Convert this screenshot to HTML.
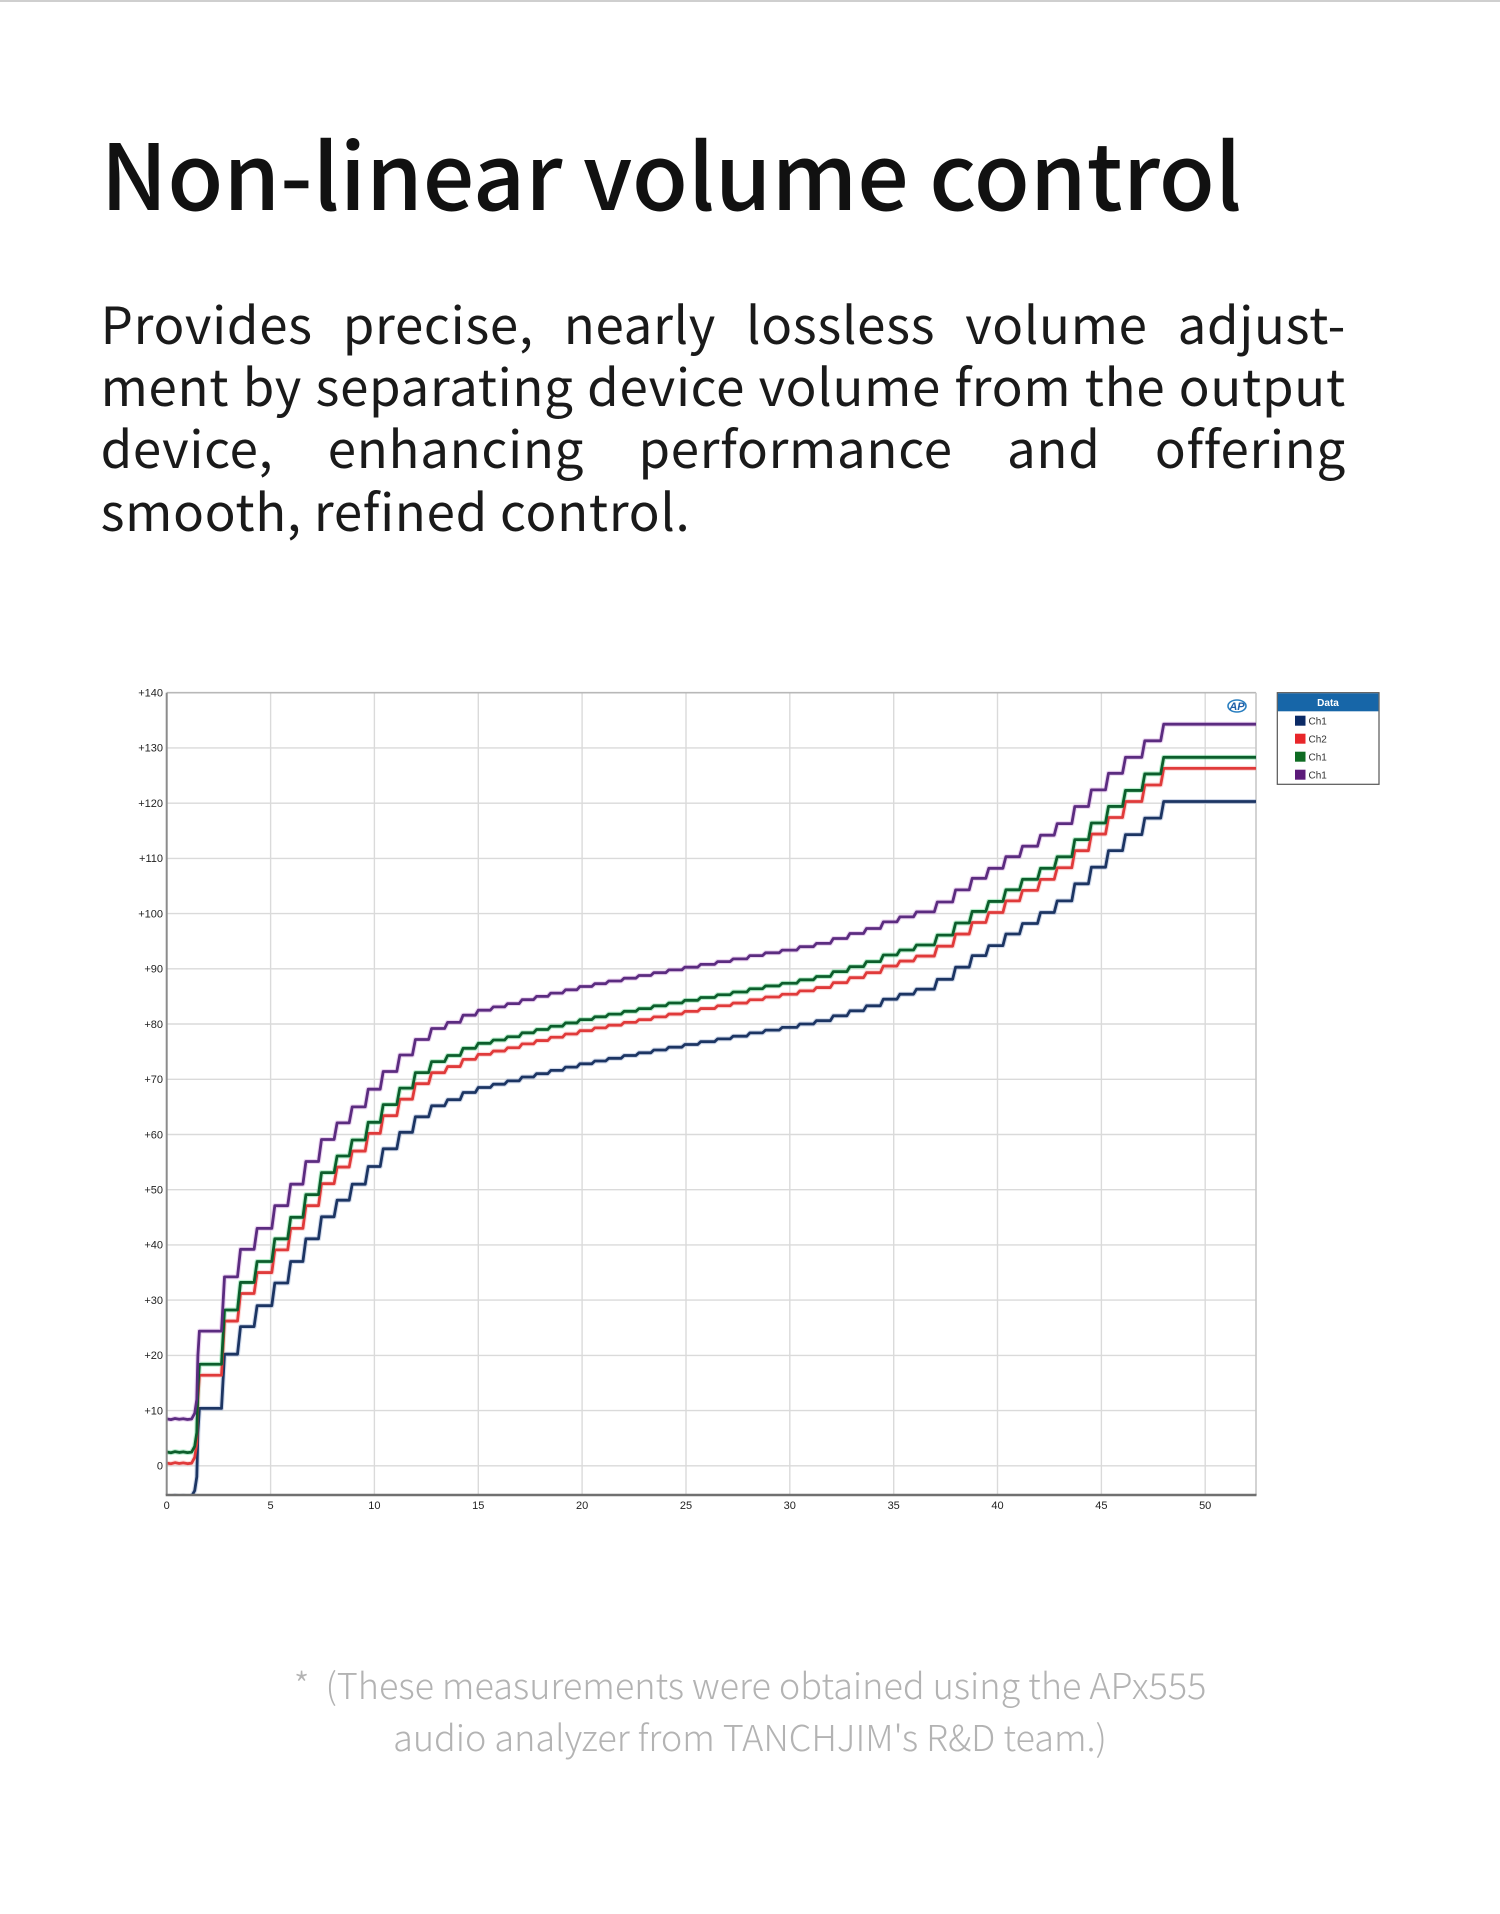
<!DOCTYPE html>
<html>
<head>
<meta charset="utf-8">
<style>
  html,body{margin:0;padding:0;}
  body{width:1500px;height:1914px;background:#fff;position:relative;overflow:hidden;}
  .txt{position:absolute;font-family:"Noto Sans CJK SC","Liberation Sans",sans-serif;white-space:nowrap;}
  .title{left:100.6px;top:125.8px;font-size:91px;line-height:91px;color:#111;font-weight:500;}
  .pl{left:100.6px;width:1245.4px;font-size:51px;line-height:62.3px;color:#1a1a1a;display:flex;justify-content:space-between;letter-spacing:0.7px;}
  .pl.last{display:block;}
  .foot{left:0;width:1500px;text-align:center;font-size:36px;line-height:52px;color:#b3b3b3;font-weight:300;}
  svg{position:absolute;left:0;top:0;}
</style>
</head>
<body>
<div style="position:absolute;left:0;top:0;width:1500px;height:2px;background:#cfcfcf;"></div>

<div class="txt title">Non-linear volume control</div>

<div class="txt pl" style="top:290.6px;"><span>Provides</span><span>precise,</span><span>nearly</span><span>lossless</span><span>volume</span><span>adjust-</span></div>
<div class="txt pl" style="top:352.9px;"><span>ment</span><span>by</span><span>separating</span><span>device</span><span>volume</span><span>from</span><span>the</span><span>output</span></div>
<div class="txt pl" style="top:415.2px;"><span>device,</span><span>enhancing</span><span>performance</span><span>and</span><span>offering</span></div>
<div class="txt pl last" style="top:477.5px;">smooth, refined control.</div>

<svg width="1500" height="1914" viewBox="0 0 1500 1914" xmlns="http://www.w3.org/2000/svg">
  <defs>
    <clipPath id="pc"><rect x="166.7" y="692.7" width="1089.3" height="802.3"/></clipPath>
    <path id="s" fill="none" d="M166.7,1418.9 L170.9,1419.6 L175,1418.5 L179.2,1419.3 L183.3,1418.7 L187.5,1419.5 L191.6,1419 L194.7,1413.3 L196.8,1399.5 L197.9,1355.4 L199.4,1331.1
    H221.5L224.5,1276.9 H237.5L240.5,1249.3 H254.1L257.1,1228.4 H271.8L274.8,1205.7 H287.7L290.7,1184.2 H302.9L305.9,1161.5 H318.5L321.5,1139.5 H334.1L337.1,1122.9 H349.2L352.2,1106.9 H365.2L368.2,1089.2 H380.2L383.2,1071.5 H396.8L399.8,1055 H412.4L415.4,1039.5 H428.6L431.6,1028.5 H444.6L447.6,1022.4 H460.1L463.1,1015.2 H475.3L478.3,1010.2 H490.3L493.3,1006.9 H504.6L507.6,1003.6 H519.1L522.1,999.7 H533.5L536.5,996.4 H547.8L550.8,993.1 H562.5L565.5,989.8 H576.9L579.9,986.5 H591.8L594.8,983.7 H605.7L608.7,981 H621.1L624.1,978.2 H635.9L638.9,975.5 H650.8L653.8,972.7 H665.8L668.8,969.9 H681.8L684.8,967.2 H697.7L700.7,964.4 H714.6L717.6,961.6 H730.1L733.1,958.9 H746.8L749.8,955.6 H762.5L765.5,952.8 H779.2L782.2,950.1 H796.8L799.8,946.7 H813.4L816.4,943.4 H830.3L833.3,938.5 H846.9L849.9,933.5 H863.5L866.5,928.5 H880.3L883.3,921.9 H896.9L899.9,916.9 H913.5L916.5,911.9 H934.3L937.3,902 H952.6L955.6,889.9 H969.2L972.2,878.3 H985.8L988.8,868.3 H1002.9L1005.9,856.7 H1019.5L1022.5,846.2 H1037.5L1040.5,835.2 H1054.2L1057.2,823.6 H1071.8L1074.8,806.5 H1088.4L1091.4,789.9 H1105.5L1108.5,773.3 H1122.5L1125.5,757.3 H1141.8L1144.8,740.8 H1160.7L1163.7,724.2 H1258"/>
  </defs>

  <!-- grid -->
  <g stroke="#dadada" stroke-width="1.4" fill="none">
    <line x1="166.7" y1="1465.8" x2="1256" y2="1465.8"/>
    <line x1="166.7" y1="1410.6" x2="1256" y2="1410.6"/>
    <line x1="166.7" y1="1355.4" x2="1256" y2="1355.4"/>
    <line x1="166.7" y1="1300.1" x2="1256" y2="1300.1"/>
    <line x1="166.7" y1="1244.9" x2="1256" y2="1244.9"/>
    <line x1="166.7" y1="1189.7" x2="1256" y2="1189.7"/>
    <line x1="166.7" y1="1134.5" x2="1256" y2="1134.5"/>
    <line x1="166.7" y1="1079.3" x2="1256" y2="1079.3"/>
    <line x1="166.7" y1="1024.0" x2="1256" y2="1024.0"/>
    <line x1="166.7" y1="968.8" x2="1256" y2="968.8"/>
    <line x1="166.7" y1="913.6" x2="1256" y2="913.6"/>
    <line x1="166.7" y1="858.4" x2="1256" y2="858.4"/>
    <line x1="166.7" y1="803.2" x2="1256" y2="803.2"/>
    <line x1="166.7" y1="747.9" x2="1256" y2="747.9"/>
    <line x1="270.6" y1="692.7" x2="270.6" y2="1495"/>
    <line x1="374.4" y1="692.7" x2="374.4" y2="1495"/>
    <line x1="478.3" y1="692.7" x2="478.3" y2="1495"/>
    <line x1="582.1" y1="692.7" x2="582.1" y2="1495"/>
    <line x1="686.0" y1="692.7" x2="686.0" y2="1495"/>
    <line x1="789.8" y1="692.7" x2="789.8" y2="1495"/>
    <line x1="893.7" y1="692.7" x2="893.7" y2="1495"/>
    <line x1="997.5" y1="692.7" x2="997.5" y2="1495"/>
    <line x1="1101.4" y1="692.7" x2="1101.4" y2="1495"/>
    <line x1="1205.2" y1="692.7" x2="1205.2" y2="1495"/>
  </g>
  <line x1="166.7" y1="692.7" x2="1256" y2="692.7" stroke="#b8b8b8" stroke-width="1.6"/>
  <line x1="1256" y1="692.7" x2="1256" y2="1495" stroke="#c8c8c8" stroke-width="1.6"/>

  <!-- series -->
  <g clip-path="url(#pc)" fill="none" stroke-linejoin="round" stroke-linecap="round">
    <g stroke-width="5" opacity="0.35">
      <use href="#s" transform="translate(0,77.31)" stroke="#7f98c8"/>
      <use href="#s" transform="translate(0,44.18)" stroke="#f59a9a"/>
      <use href="#s" transform="translate(0,33.13)" stroke="#3ccf75"/>
      <use href="#s" stroke="#c98ad9"/>
    </g>
    <g stroke-width="2.8">
      <use href="#s" transform="translate(0,77.31)" stroke="#1c3563"/>
      <use href="#s" transform="translate(0,44.18)" stroke="#e03a3a"/>
      <use href="#s" transform="translate(0,33.13)" stroke="#0c5e2c"/>
      <use href="#s" stroke="#5b2c80"/>
    </g>
  </g>

  <!-- axes -->
  <line x1="166.7" y1="692.7" x2="166.7" y2="1495" stroke="#8c8c8c" stroke-width="2"/>
  <line x1="165.7" y1="1495" x2="1256.5" y2="1495" stroke="#707070" stroke-width="2.4"/>

  <!-- y labels -->
  <g font-family="Liberation Sans, sans-serif" font-size="11" fill="#222" text-anchor="end">
    <text x="163" y="696.5">+140</text>
    <text x="163" y="751.7">+130</text>
    <text x="163" y="807">+120</text>
    <text x="163" y="862.2">+110</text>
    <text x="163" y="917.4">+100</text>
    <text x="163" y="972.6">+90</text>
    <text x="163" y="1027.8">+80</text>
    <text x="163" y="1083.1">+70</text>
    <text x="163" y="1138.3">+60</text>
    <text x="163" y="1193.5">+50</text>
    <text x="163" y="1248.7">+40</text>
    <text x="163" y="1303.9">+30</text>
    <text x="163" y="1359.2">+20</text>
    <text x="163" y="1414.4">+10</text>
    <text x="163" y="1469.6">0</text>
  </g>
  <!-- x labels -->
  <g font-family="Liberation Sans, sans-serif" font-size="11" fill="#222" text-anchor="middle">
    <text x="166.7" y="1509">0</text>
    <text x="270.6" y="1509">5</text>
    <text x="374.4" y="1509">10</text>
    <text x="478.3" y="1509">15</text>
    <text x="582.1" y="1509">20</text>
    <text x="686.0" y="1509">25</text>
    <text x="789.8" y="1509">30</text>
    <text x="893.7" y="1509">35</text>
    <text x="997.5" y="1509">40</text>
    <text x="1101.4" y="1509">45</text>
    <text x="1205.2" y="1509">50</text>
  </g>

  <!-- AP logo -->
  <ellipse cx="1237" cy="706" rx="9" ry="6" fill="none" stroke="#2a7fc0" stroke-width="1.6"/>
  <text x="1237" y="710" font-family="Liberation Sans, sans-serif" font-size="11" font-weight="bold" font-style="italic" fill="#1f5fa8" text-anchor="middle">AP</text>

  <!-- legend -->
  <rect x="1277.3" y="692.7" width="101.7" height="91.6" fill="#fff" stroke="#555" stroke-width="1.2"/>
  <rect x="1277.9" y="693.3" width="100.5" height="18" fill="#1766a8"/>
  <text x="1328" y="706" font-family="Liberation Sans, sans-serif" font-size="10" font-weight="bold" fill="#fff" text-anchor="middle">Data</text>
  <rect x="1295" y="715.7" width="10.5" height="10" fill="#0b2a66"/>
  <rect x="1295" y="733.7" width="10.5" height="10" fill="#e8262a"/>
  <rect x="1295" y="751.7" width="10.5" height="10" fill="#0e6b22"/>
  <rect x="1295" y="769.7" width="10.5" height="10" fill="#5c1a7a"/>
  <g font-family="Liberation Sans, sans-serif" font-size="10" fill="#333">
    <text x="1308.5" y="724.5">Ch1</text>
    <text x="1308.5" y="742.5">Ch2</text>
    <text x="1308.5" y="760.5">Ch1</text>
    <text x="1308.5" y="778.5">Ch1</text>
  </g>
</svg>

<div class="txt foot" style="top:1658.3px;">*&nbsp;&nbsp;(These measurements were obtained using the APx555</div>
<div class="txt foot" style="top:1710.3px;">audio analyzer from TANCHJIM's R&amp;D team.)</div>
</body>
</html>
